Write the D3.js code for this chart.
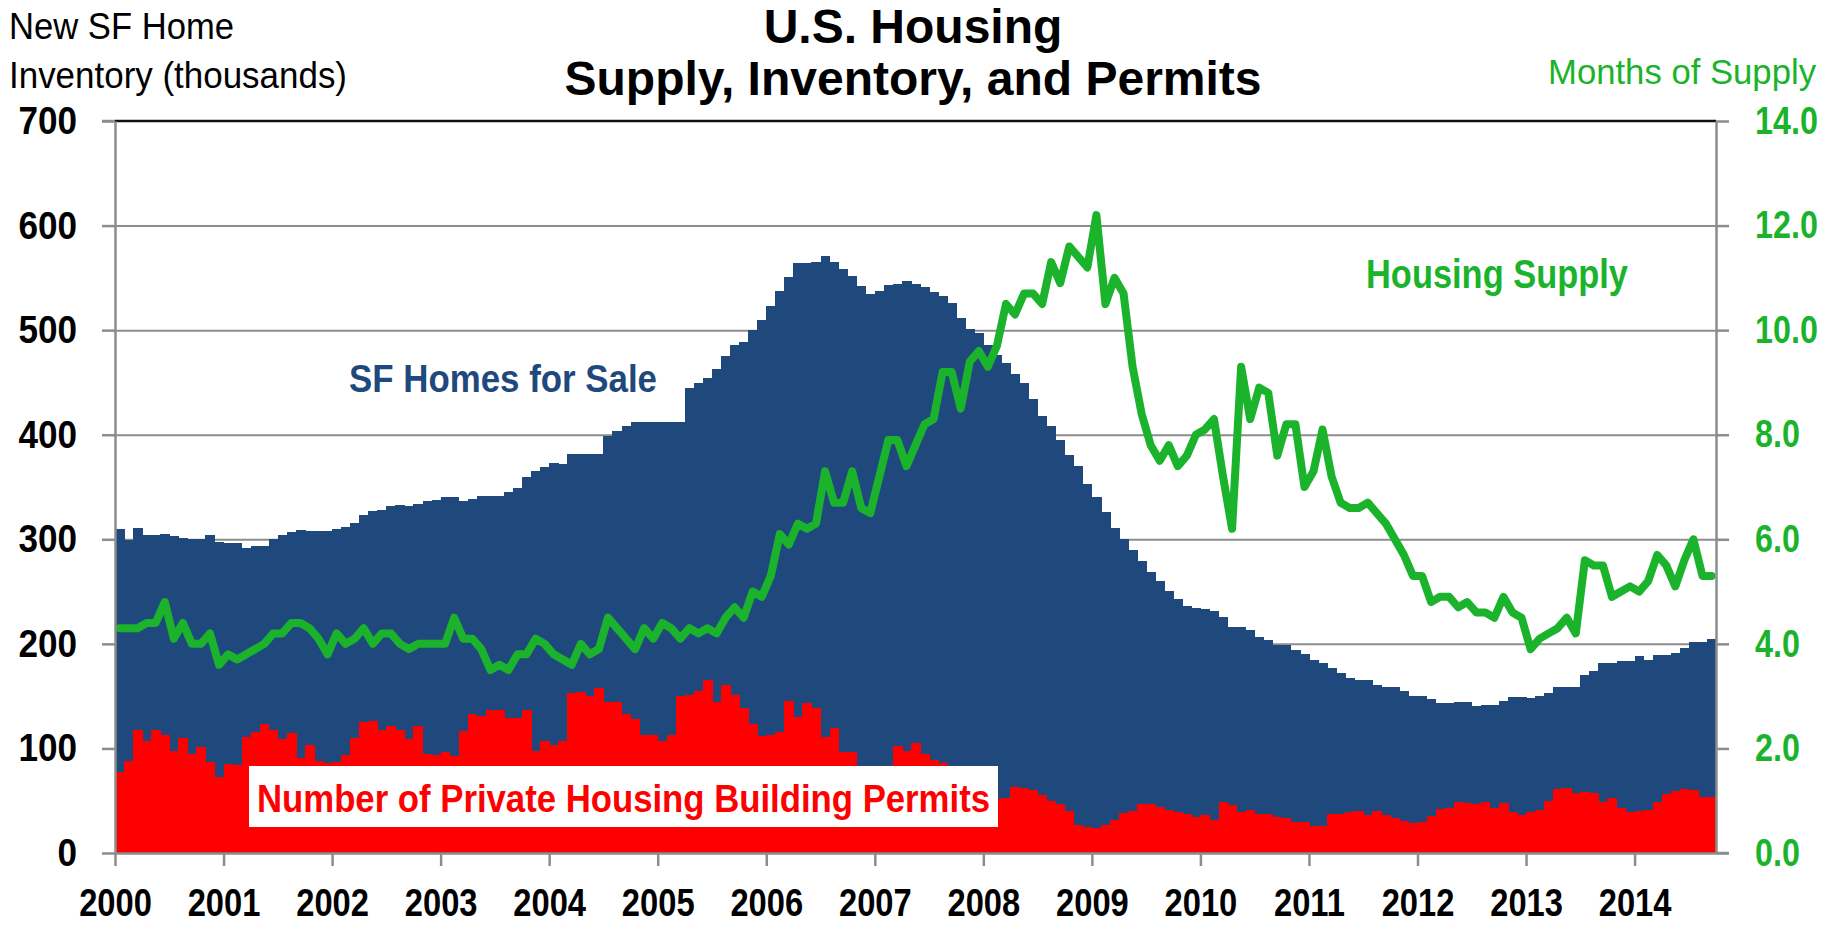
<!DOCTYPE html>
<meta charset="utf-8">
<body style="margin:0;background:#fff">
<script src="https://cdn.jsdelivr.net/npm/d3@7"></script>
<script>

  let width = 1835,
    height = 925;

  // monthly, Jan 2000 .. Sep 2014
  let yearLabels = ["2000", "2001", "2002", "2003", "2004", "2005", "2006", "2007",
    "2008", "2009", "2010", "2011", "2012", "2013", "2014"];

  // new single-family homes for sale (thousands)
  let inventory = [
    310, 299, 311, 304, 304, 305, 303, 301, 300, 300, 304, 297,
    296, 296, 292, 294, 294, 300, 304, 307, 309, 308, 308, 308,
    310, 312, 316, 323, 327, 328, 332, 333, 332, 334, 337, 338,
    340, 340, 337, 339, 341, 341, 341, 345, 349, 360, 365, 369,
    373, 372, 382, 382, 382, 382, 399, 404, 408, 412, 412, 412,
    412, 412, 412, 445, 449, 454, 463, 475, 486, 489, 500, 510,
    523, 537, 551, 564, 564, 565, 571, 565, 558, 552, 542, 535,
    537, 543, 544, 547, 544, 541, 536, 533, 526, 512, 501, 497,
    486, 476, 469, 458, 449, 434, 418, 408, 395, 381, 370, 353,
    340, 326, 311, 300, 290, 279, 269, 260, 251, 243, 236, 234,
    233, 231, 226, 216, 216, 213, 207, 204, 199, 199, 194, 190,
    185, 182, 177, 172, 167, 165, 165, 161, 159, 159, 155, 150,
    150, 147, 143, 143, 144, 144, 141, 142, 142, 145, 149, 149,
    148, 150, 153, 159, 159, 159, 170, 174, 182, 182, 184, 184,
    188, 185, 189, 189, 191, 196, 202, 202, 205
  ];

  // private housing building permits (thousands)
  let permits = [
    77, 88, 118, 107, 118, 113, 98, 110, 95, 101, 87, 73,
    85, 84, 111, 116, 123, 118, 109, 115, 91, 103, 88, 86,
    87, 94, 110, 125, 126, 118, 121, 118, 109, 121, 95, 94,
    97, 93, 117, 133, 131, 137, 137, 129, 129, 137, 98, 107,
    103, 107, 153, 154, 150, 158, 144, 144, 133, 128, 113, 113,
    107, 113, 150, 151, 155, 165, 144, 161, 151, 139, 123, 112,
    113, 116, 145, 130, 143, 139, 111, 120, 97, 97, 80, 70,
    68, 75, 102, 98, 105, 95, 89, 86, 78, 72, 66, 58,
    55, 52, 53, 63, 62, 60, 55, 50, 47, 40, 27, 25,
    24, 27, 32, 38, 40, 47, 47, 44, 41, 39, 37, 34,
    36, 32, 49, 46, 39, 41, 37, 37, 34, 33, 30, 30,
    26, 26, 37, 37, 39, 40, 36, 40, 36, 33, 31, 29,
    30, 35, 42, 43, 49, 48, 47, 49, 43, 48, 39, 36,
    39, 41, 50, 61, 62, 57, 58, 57, 49, 53, 43, 39,
    40, 41, 49, 56, 59, 61, 60, 54, 54
  ];

  // months of supply
  let supply = [
    4.3, 4.3, 4.3, 4.4, 4.4, 4.8, 4.1, 4.4, 4.0, 4.0, 4.2, 3.6,
    3.8, 3.7, 3.8, 3.9, 4.0, 4.2, 4.2, 4.4, 4.4, 4.3, 4.1, 3.8,
    4.2, 4.0, 4.1, 4.3, 4.0, 4.2, 4.2, 4.0, 3.9, 4.0, 4.0, 4.0,
    4.0, 4.5, 4.1, 4.1, 3.9, 3.5, 3.6, 3.5, 3.8, 3.8, 4.1, 4.0,
    3.8, 3.7, 3.6, 4.0, 3.8, 3.9, 4.5, 4.3, 4.1, 3.9, 4.3, 4.1,
    4.4, 4.3, 4.1, 4.3, 4.2, 4.3, 4.2, 4.5, 4.7, 4.5, 5.0, 4.9,
    5.3, 6.1, 5.9, 6.3, 6.2, 6.3, 7.3, 6.7, 6.7, 7.3, 6.6, 6.5,
    7.2, 7.9, 7.9, 7.4, 7.8, 8.2, 8.3, 9.2, 9.2, 8.5, 9.4, 9.6,
    9.3, 9.7, 10.5, 10.3, 10.7, 10.7, 10.5, 11.3, 10.9, 11.6, 11.4, 11.2,
    12.2, 10.5, 11.0, 10.7, 9.3, 8.4, 7.8, 7.5, 7.8, 7.4, 7.6, 8.0,
    8.1, 8.3, 7.2, 6.2, 9.3, 8.3, 8.9, 8.8, 7.6, 8.2, 8.2, 7.0,
    7.3, 8.1, 7.2, 6.7, 6.6, 6.6, 6.7, 6.5, 6.3, 6.0, 5.7, 5.3,
    5.3, 4.8, 4.9, 4.9, 4.7, 4.8, 4.6, 4.6, 4.5, 4.9, 4.6, 4.5,
    3.9, 4.1, 4.2, 4.3, 4.5, 4.2, 5.6, 5.5, 5.5, 4.9, 5.0, 5.1,
    5.0, 5.2, 5.7, 5.5, 5.1, 5.6, 6.0, 5.3, 5.3
  ];

  let plotLeft = 115, plotRight = 1716, plotTop = 121, plotBottom = 853;
  let font = "'Liberation Sans', Arial, sans-serif",
    navy = "#1f497d",
    green = "#1bb32c",
    red = "#ff0000",
    axisGray = "#8c8c8c";

  let x = d3.scaleLinear().domain([0, inventory.length]).range([plotLeft, plotRight]),
    y = d3.scaleLinear().domain([0, 700]).range([plotBottom, plotTop]),
    y2 = d3.scaleLinear().domain([0, 14]).range([plotBottom, plotTop]);

  let svg = d3.select("body").append("svg")
    .attr("width", width)
    .attr("height", height)
    .style("font-family", font);

  // squeeze text to look like a narrow face
  function narrow(sel, f) {
    sel.each(function() {
      let w = this.getComputedTextLength();
      d3.select(this).attr("textLength", w * f).attr("lengthAdjust", "spacingAndGlyphs");
    });
  }
  function fit(sel, w) {
    sel.attr("textLength", w).attr("lengthAdjust", "spacingAndGlyphs");
  }

  // gridlines
  svg.append("g")
    .attr("transform", "translate(" + plotLeft + ",0)")
    .call(d3.axisLeft(y).tickValues(d3.range(100, 700, 100)).tickSize(-(plotRight - plotLeft)).tickFormat(""))
    .call(g => g.select(".domain").remove())
    .selectAll("line").attr("stroke", "#8c8c8c").attr("stroke-width", 2);

  // inventory bars
  svg.append("g")
    .attr("shape-rendering", "crispEdges")
    .selectAll("rect")
    .data(inventory)
    .enter().append("rect")
    .attr("x", (d, i) => x(i))
    .attr("width", (d, i) => x(i + 1) - x(i) + 0.6)
    .attr("y", d => y(d))
    .attr("height", d => y(0) - y(d))
    .attr("fill", navy);

  // permits bars
  svg.append("g")
    .attr("shape-rendering", "crispEdges")
    .selectAll("rect")
    .data(permits)
    .enter().append("rect")
    .attr("x", (d, i) => x(i))
    .attr("width", (d, i) => x(i + 1) - x(i) + 0.6)
    .attr("y", d => y(d))
    .attr("height", d => y(0) - y(d))
    .attr("fill", red);

  // months of supply line
  let line = d3.line()
    .x((d, i) => x(i + 0.5))
    .y(d => y2(d));

  svg.append("path")
    .datum(supply)
    .attr("d", line)
    .attr("fill", "none")
    .attr("stroke", green)
    .attr("stroke-width", 8)
    .attr("stroke-linejoin", "round")
    .attr("stroke-linecap", "round");

  // top border
  svg.append("line")
    .attr("x1", plotLeft).attr("x2", plotRight)
    .attr("y1", plotTop).attr("y2", plotTop)
    .attr("stroke", "#111").attr("stroke-width", 2.5);

  // axes
  let yAxis = svg.append("g")
    .attr("transform", "translate(" + plotLeft + ",0)")
    .call(d3.axisLeft(y).tickValues(d3.range(0, 800, 100)).tickSize(13).tickSizeOuter(0).tickPadding(25));

  let y2Axis = svg.append("g")
    .attr("transform", "translate(" + plotRight + ",0)")
    .call(d3.axisRight(y2).tickValues(d3.range(0, 16, 2)).tickFormat(d3.format(".1f"))
      .tickSize(13).tickSizeOuter(0).tickPadding(26));

  let xAxis = svg.append("g")
    .attr("transform", "translate(0," + plotBottom + ")")
    .call(d3.axisBottom(x).tickValues(d3.range(0, inventory.length, 12))
      .tickFormat((d, i) => yearLabels[i]).tickSize(13).tickSizeOuter(0).tickPadding(23));

  [yAxis, y2Axis, xAxis].forEach(function(g) {
    g.select(".domain").attr("stroke", axisGray).attr("stroke-width", 2.5);
    g.selectAll(".tick line").attr("stroke", axisGray).attr("stroke-width", 2.5);
    g.selectAll("text")
      .attr("font-family", font)
      .attr("font-weight", "bold")
      .attr("font-size", 38)
      .attr("fill", "#000");
  });
  yAxis.selectAll("text").attr("font-size", 39).call(narrow, 0.9);
  y2Axis.selectAll("text").attr("fill", green).call(narrow, 0.85);
  xAxis.selectAll("text").call(narrow, 0.86);

  // axis lines run a little past the corners
  svg.append("line")
    .attr("x1", plotRight).attr("x2", plotRight + 13)
    .attr("y1", plotBottom).attr("y2", plotBottom)
    .attr("stroke", axisGray).attr("stroke-width", 2.5);
  svg.append("line")
    .attr("x1", plotLeft - 13).attr("x2", plotLeft)
    .attr("y1", plotTop).attr("y2", plotTop)
    .attr("stroke", axisGray).attr("stroke-width", 2.5);

  // titles
  svg.append("text")
    .attr("x", 913).attr("y", 43)
    .attr("text-anchor", "middle")
    .attr("font-size", 48).attr("font-weight", "bold")
    .text("U.S. Housing");
  svg.append("text")
    .attr("x", 913).attr("y", 95)
    .attr("text-anchor", "middle")
    .attr("font-size", 48).attr("font-weight", "bold")
    .text("Supply, Inventory, and Permits");

  svg.append("text")
    .attr("x", 9).attr("y", 39)
    .attr("font-size", 36)
    .text("New SF Home")
    .call(fit, 225);
  svg.append("text")
    .attr("x", 9).attr("y", 88)
    .attr("font-size", 36)
    .text("Inventory (thousands)")
    .call(fit, 338);

  svg.append("text")
    .attr("x", 1548).attr("y", 84)
    .attr("font-size", 35)
    .attr("fill", green)
    .text("Months of Supply")
    .call(fit, 268);

  // series labels
  svg.append("text")
    .attr("x", 349).attr("y", 392)
    .attr("font-size", 39).attr("font-weight", "bold")
    .attr("fill", navy)
    .text("SF Homes for Sale")
    .call(fit, 308);

  svg.append("text")
    .attr("x", 1366).attr("y", 288)
    .attr("font-size", 40).attr("font-weight", "bold")
    .attr("fill", green)
    .text("Housing Supply")
    .call(fit, 262);

  svg.append("rect")
    .attr("x", 249).attr("y", 766)
    .attr("width", 749).attr("height", 61)
    .attr("fill", "#fff");
  svg.append("text")
    .attr("x", 257).attr("y", 812)
    .attr("font-size", 39).attr("font-weight", "bold")
    .attr("fill", red)
    .text("Number of Private Housing Building Permits")
    .call(fit, 733);

</script>
